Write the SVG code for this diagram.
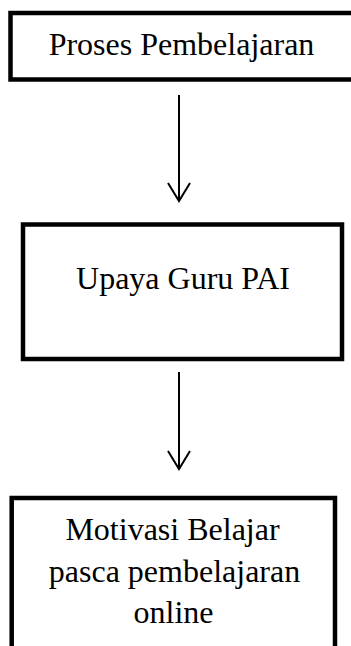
<svg xmlns="http://www.w3.org/2000/svg" width="351" height="646" viewBox="0 0 351 646">
<style>
.box{fill:#fff;stroke:#000;stroke-width:4.5}
.t{font-family:"Liberation Serif","Times New Roman",serif;font-size:32px;fill:#000;text-anchor:middle}
.c{fill:none;stroke:#000;stroke-width:2}
</style>
<rect width="351" height="646" fill="#fff"/>
<g id="connectors">
<line class="c" x1="179" y1="95" x2="179" y2="201"/>
<polyline class="c" points="168,183 179,201 190,183"/>
<line class="c" x1="179" y1="372" x2="179" y2="469"/>
<polyline class="c" points="168,451 179,469 190,451"/>
</g>
<g id="node1">
<rect class="box" x="10.5" y="13" width="360" height="66.5"/>
<text class="t" x="181.5" y="55">Proses Pembelajaran</text>
</g>
<g id="node2">
<rect class="box" x="23" y="224.5" width="319" height="134.5"/>
<text class="t" x="183" y="289">Upaya Guru PAI</text>
</g>
<g id="node3">
<rect class="box" x="11.7" y="498" width="323.3" height="170"/>
<text class="t" x="172.5" y="540">Motivasi Belajar</text>
<text class="t" x="174.5" y="581.5">pasca pembelajaran</text>
<text class="t" x="173.5" y="623">online</text>
</g>
</svg>
